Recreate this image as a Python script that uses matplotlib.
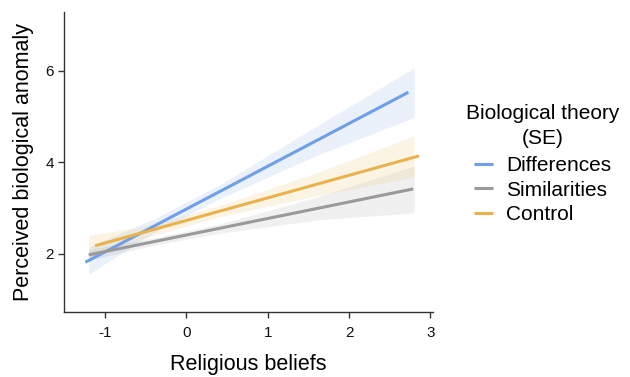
import numpy as np
import matplotlib
matplotlib.use('Agg')
import matplotlib.pyplot as plt

plt.rcParams['font.family'] = ['Liberation Sans', 'DejaVu Sans']
plt.rcParams['axes.unicode_minus'] = False

# Fitted lines (end points)
diff_x = [-1.24, 2.73]
diff_y = [1.82, 5.53]
sim_x = [-1.20, 2.79]
sim_y = [1.98, 3.42]
ctrl_x = [-1.12, 2.86]
ctrl_y = [2.18, 4.14]

# SE ribbons
band_x = [-1.2, -0.4, 0.4, 1.6, 2.8]
diff_lo = [1.56, 2.46, 3.20, 4.15, 4.98]
diff_hi = [2.16, 2.76, 3.50, 4.79, 6.06]
sim_lo = [1.86, 2.19, 2.45, 2.74, 2.90]
sim_hi = [2.10, 2.35, 2.65, 3.24, 3.92]
ctrl_lo = [1.92, 2.41, 2.81, 3.27, 3.68]
ctrl_hi = [2.40, 2.65, 3.05, 3.77, 4.58]

blue = '#6f9fe6'
gray = '#9a9a9a'
orange = '#e9b24c'

fig = plt.figure(figsize=(6.3, 3.77), dpi=100)
ax = fig.add_axes([0.102, 0.172, 0.585, 0.796])

ax.fill_between(band_x, diff_lo, diff_hi, color=blue, alpha=0.14, lw=0)
ax.fill_between(band_x, sim_lo, sim_hi, color=gray, alpha=0.14, lw=0)
ax.fill_between(band_x, ctrl_lo, ctrl_hi, color=orange, alpha=0.14, lw=0)

ax.plot(diff_x, diff_y, color=blue, lw=2.2, label='Differences', solid_capstyle='butt')
ax.plot(sim_x, sim_y, color=gray, lw=2.2, label='Similarities', solid_capstyle='butt')
ax.plot(ctrl_x, ctrl_y, color=orange, lw=2.2, label='Control', solid_capstyle='butt')

ax.set_xlim(-1.5, 3.03)
ax.set_ylim(0.73, 7.28)
ax.set_xticks([-1, 0, 1, 2, 3])
ax.set_yticks([2, 4, 6])
for s in ['top', 'right']:
    ax.spines[s].set_visible(False)
for s in ['left', 'bottom']:
    ax.spines[s].set_color('#333333')
    ax.spines[s].set_linewidth(1.0)
ax.tick_params(colors='#333333', labelcolor='#111111', labelsize=11, length=4, width=1)
ax.tick_params(axis='x', pad=6)

ax.set_xlabel('Religious beliefs', fontsize=15.5, labelpad=10, color='#000000')
ax.set_ylabel('Perceived biological anomaly', fontsize=15.5, labelpad=8, color='#000000')

leg = fig.legend(loc='center left', bbox_to_anchor=(0.71, 0.565), frameon=False,
                 title='Biological theory\n(SE)', fontsize=15, title_fontsize=15,
                 handlelength=0.9, handletextpad=0.65, labelspacing=0.25)
leg._legend_box.align = 'center'
leg._legend_box.sep = 6
leg.get_title().set_multialignment('center')
leg.get_title().set_linespacing(1.4)

fig.savefig('out.png', dpi=100)
